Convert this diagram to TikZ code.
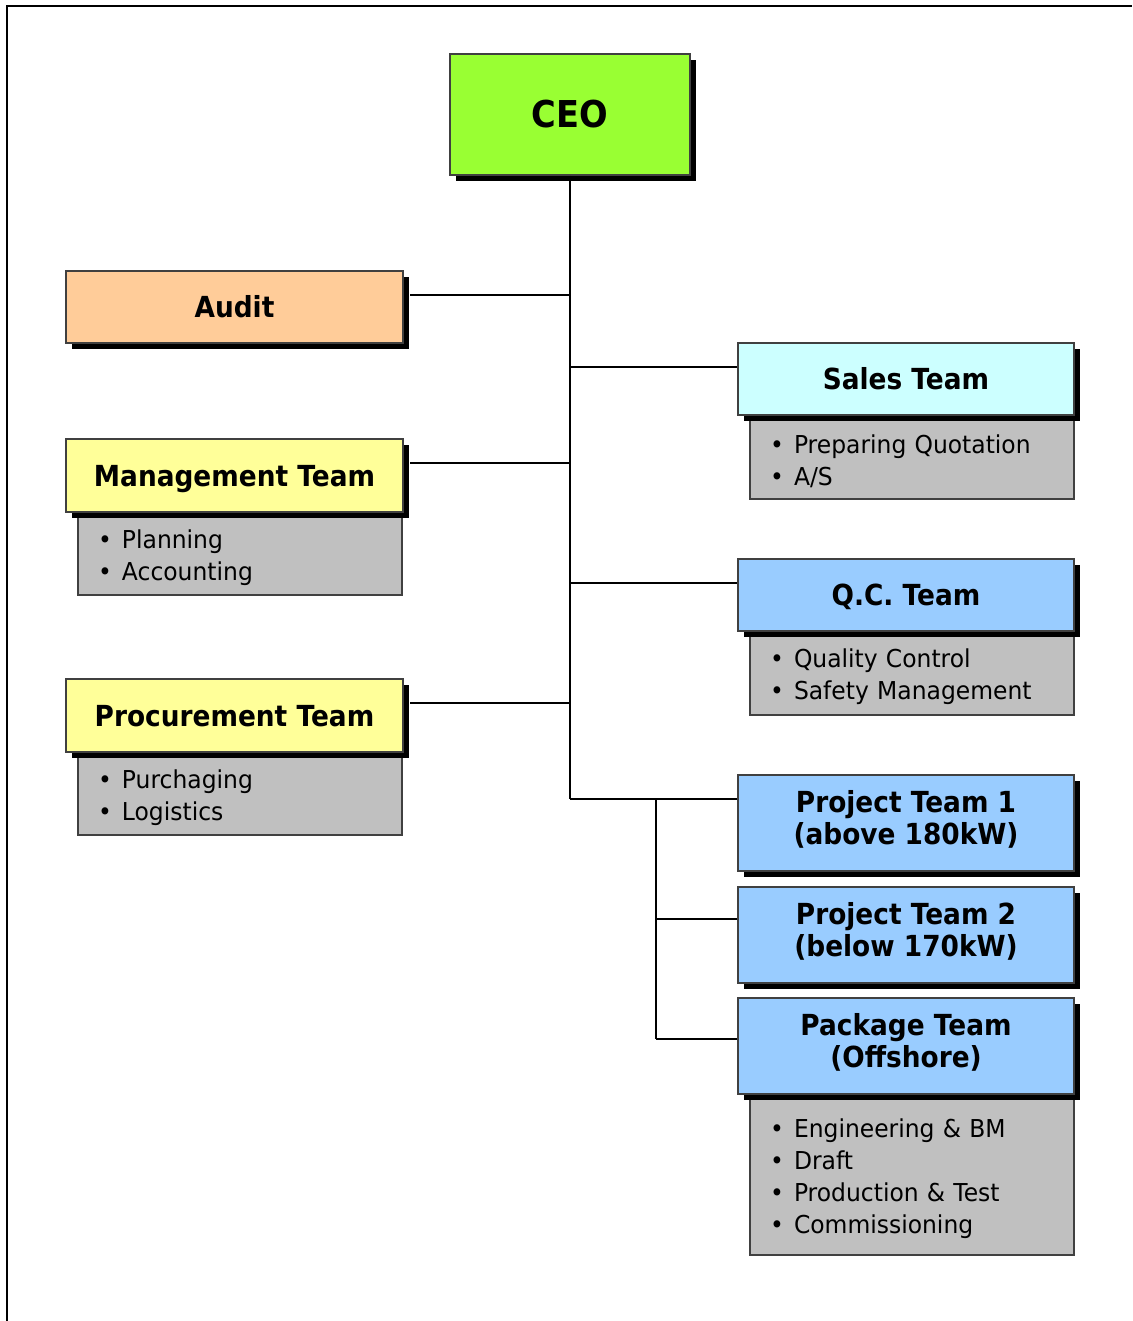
\documentclass[tikz,border=0pt]{standalone}
\usepackage{fontspec}
\setmainfont{DejaVu Sans}[FakeStretch=0.95, BoldFeatures={FakeStretch=0.91}]
\usetikzlibrary{shadows}
\definecolor{ceoc}{HTML}{99FF33}
\definecolor{auditc}{HTML}{FFCC99}
\definecolor{yelc}{HTML}{FFFF99}
\definecolor{cyanc}{HTML}{CCFFFF}
\definecolor{bluc}{HTML}{99CCFF}
\definecolor{gryc}{HTML}{C0C0C0}
\newcommand{\bul}{\makebox[18pt][l]{•}}
\newcommand{\topstrut}{\rule{0pt}{20pt}}
\newcommand{\botstrut}{\rule[-9pt]{0pt}{0pt}}
\tikzset{
  hbox/.style={draw=black!75, line width=0.9pt,
    general shadow={fill=black, shadow xshift=4.5pt, shadow yshift=-4.5pt},
    font=\bfseries\fontsize{21.75}{24}\selectfont, align=center, inner sep=0pt,
    minimum width=252pt},
  oneline/.style={text height=15.9pt, text depth=0pt},
  gbox/.style={draw=black!75, line width=0.9pt, fill=gryc, align=left,
    font=\fontsize{18.5}{24}\selectfont, inner xsep=15pt, inner ysep=0pt,
    text width=213pt},
  link/.style={line width=1.5pt}
}
\begin{document}
\begin{tikzpicture}[x=0.75pt,y=-0.75pt]
\useasboundingbox (0,0) rectangle (1132,1321);
\draw[line width=1.8pt] (7,1321) -- (7,6) -- (1132,6);

% gray detail boxes first
\node[gbox, minimum height=62.25pt] (mgd) at (240,553.5) {\topstrut\bul Planning\\\bul Accounting};
\node[gbox, minimum height=62.25pt] (prd) at (240,793.5) {\topstrut\bul Purchaging\\\bul Logistics};
\node[gbox, minimum height=63pt] (sad) at (912,457) {\topstrut\bul Preparing Quotation\\\bul A/S};
\node[gbox, minimum height=63pt] (qcd) at (912,673) {\topstrut\bul Quality Control\\\bul Safety Management};
\node[gbox, minimum height=120.75pt] (pkd) at (912,1174.5) {\topstrut\bul Engineering \& BM\\\bul Draft\\\bul Production \& Test\\\bul Commissioning};

% junction points
\coordinate (tb) at (570,799);
\coordinate (ja) at (570,295);
\coordinate (jm) at (570,463);
\coordinate (jp) at (570,703);
\coordinate (js) at (570,367);
\coordinate (jq) at (570,583);
\coordinate (kt) at (656,799);
\coordinate (k2) at (656,919);
\coordinate (k3) at (656,1039);

% header boxes
\node[hbox, fill=ceoc, minimum width=180pt, minimum height=90.75pt, text height=20.2pt, text depth=0pt, font=\bfseries\fontsize{27.75}{30}\selectfont] (ceo) at (570,114.5) {CEO};
\node[hbox, oneline, fill=auditc, minimum width=252.75pt, minimum height=54pt] (audit) at (234.5,307) {Audit};
\node[hbox, oneline, fill=yelc, minimum width=252.75pt, minimum height=54.75pt] (mgmt) at (234.5,475.5) {Management Team};
\node[hbox, oneline, fill=yelc, minimum width=252.75pt, minimum height=54.75pt] (proc) at (234.5,715.5) {Procurement Team};
\node[hbox, oneline, fill=cyanc, minimum height=54pt] (sales) at (906,379) {Sales Team};
\node[hbox, oneline, fill=bluc, minimum height=54pt] (qc) at (906,595) {Q.C. Team};
\node[hbox, fill=bluc, minimum height=72pt] (pt1) at (906,823) {Project Team 1\\(above 180kW)\botstrut};
\node[hbox, fill=bluc, minimum height=72pt] (pt2) at (906,935) {Project Team 2\\(below 170kW)\botstrut};
\node[hbox, fill=bluc, minimum height=72pt] (pkg) at (906,1046) {Package Team\\(Offshore)\botstrut};

% connectors
\draw[link] (ceo.south) -- (tb);
\draw[link] (ja) -- ([xshift=4.5pt]ja -| audit.east);
\draw[link] (jm) -- ([xshift=4.5pt]jm -| mgmt.east);
\draw[link] (jp) -- ([xshift=4.5pt]jp -| proc.east);
\draw[link] (js) -- (js -| sales.west);
\draw[link] (jq) -- (jq -| qc.west);
\draw[link] (tb) -- (tb -| pt1.west);
\draw[link] (kt) -- (k3);
\draw[link] (k2) -- (k2 -| pt2.west);
\draw[link] (k3) -- (k3 -| pkg.west);
\end{tikzpicture}
\end{document}
